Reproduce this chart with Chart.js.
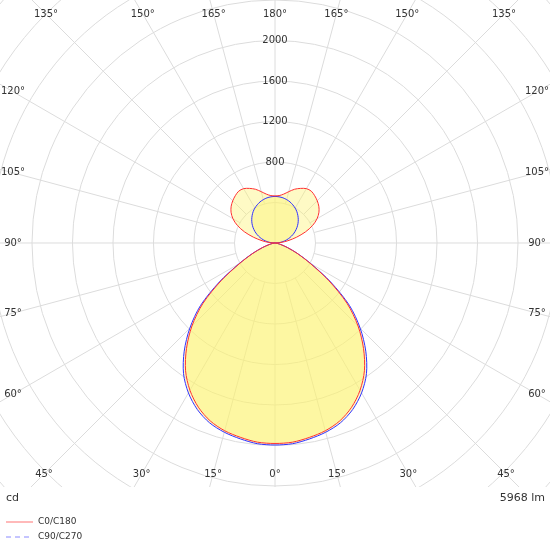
<!DOCTYPE html>
<html><head><meta charset="utf-8">
<script src="https://cdn.jsdelivr.net/npm/chart.js@4/dist/chart.umd.min.js"></script>
<style>html,body{margin:0;padding:0;background:#fff}#w{width:550px;height:550px}</style>
</head><body><div id="w"><canvas id="c" width="550" height="550"></canvas></div>
<script>
const angles = [0,5,10,15,20,25,30,35,40,45,50,55,60,65,70,75,80,85,90,95,100,105,110,115,120,125,130,135,140,145,150,155,160,165,170,175,180];
const c0c180 = [1980,1975,1950,1920,1870,1790,1680,1540,1360,1160,930,650,400,240,130,60,25,8,0,60,130,220,320,410,480,530,565,590,610,625,620,595,565,525,490,470,465];
const c90c270 = [1995,1990,1965,1935,1890,1815,1710,1575,1395,1190,960,670,410,245,130,60,25,8,0,40,80,118,157,194,230,264,296,325,352,377,398,416,432,444,453,458,460];
const radialTicks = [800,1200,1600,2000];
const seriesNames = ['C0/C180','C90/C270'];
const unitLeft = 'cd', unitRight = '5968 lm';

function toXY(vals){
  const pts=[];
  for(let i=angles.length-1;i>=0;i--){const t=-angles[i]*Math.PI/180;pts.push({x:vals[i]*Math.sin(t),y:-vals[i]*Math.cos(t)});}
  for(let i=1;i<angles.length;i++){const t=angles[i]*Math.PI/180;pts.push({x:vals[i]*Math.sin(t),y:-vals[i]*Math.cos(t)});}
  return pts;
}
const polarGrid={id:'pg',
 beforeDatasetsDraw(ch){
  const {ctx,chartArea:a,scales:{x,y}}=ch;
  const cx=x.getPixelForValue(0),cy=y.getPixelForValue(0);
  const k=x.getPixelForValue(400)-cx;
  ctx.save();ctx.beginPath();ctx.rect(a.left,a.top,a.right-a.left,a.bottom-a.top);ctx.clip();
  ctx.strokeStyle='#dcdcdc';ctx.lineWidth=1;
  for(let r=400;r<=4000;r+=400){ctx.beginPath();ctx.arc(cx,cy,(x.getPixelForValue(r)-cx),0,2*Math.PI);ctx.stroke();}
  for(let d=0;d<360;d+=15){const t=d*Math.PI/180;ctx.beginPath();ctx.moveTo(cx+Math.sin(t)*k,cy+Math.cos(t)*k);ctx.lineTo(cx+Math.sin(t)*1000,cy+Math.cos(t)*1000);ctx.stroke();}
  ctx.beginPath();ctx.moveTo(cx,cy-k);ctx.lineTo(cx,cy+k);ctx.stroke();
  // fills
  ch.data.datasets.forEach((ds,i)=>{const m=ch.getDatasetMeta(i);ctx.beginPath();m.data.forEach((p,j)=>j?ctx.lineTo(p.x,p.y):ctx.moveTo(p.x,p.y));ctx.closePath();ctx.fillStyle='rgba(252,242,110,0.4)';ctx.fill();});
  ctx.restore();
 },
 afterDatasetsDraw(ch){
  const {ctx,chartArea:a,scales:{x,y}}=ch;
  const cx=x.getPixelForValue(0),cy=y.getPixelForValue(0);
  ctx.save();ctx.font='10px "DejaVu Sans"';ctx.fillStyle='#333';ctx.textAlign='center';ctx.textBaseline='middle';
  radialTicks.forEach(v=>{ctx.fillText(String(v),cx,y.getPixelForValue(v));});
  const L=13,R=537,T=14,B=474;
  for(let d=0;d<=180;d+=15){
   for(const s of [1,-1]){
    if((d==0||d==180)&&s<0)continue;
    const t=d*Math.PI/180,dx=s*Math.sin(t),dy=Math.cos(t);
    let tt=1e9;
    if(dy>1e-6)tt=Math.min(tt,(B-cy)/dy); if(dy<-1e-6)tt=Math.min(tt,(T-cy)/dy);
    if(dx>1e-6)tt=Math.min(tt,(R-cx)/dx); if(dx<-1e-6)tt=Math.min(tt,(L-cx)/dx);
    ctx.fillText(d+'°',cx+dx*tt,cy+dy*tt);
   }
  }
  ctx.textAlign='left';ctx.font='11px "DejaVu Sans"';ctx.fillText(unitLeft,6,498);
  ctx.textAlign='right';ctx.fillText(unitRight,545,498);
  ctx.textAlign='left';ctx.font='9px "DejaVu Sans"';
  ctx.lineWidth=1;ctx.strokeStyle='rgba(255,80,80,0.8)';ctx.beginPath();ctx.moveTo(6,522);ctx.lineTo(33,522);ctx.stroke();
  ctx.fillText(seriesNames[0],38,522);
  ctx.strokeStyle='rgba(90,90,255,0.7)';ctx.setLineDash([5,4]);ctx.beginPath();ctx.moveTo(6,537);ctx.lineTo(33,537);ctx.stroke();ctx.setLineDash([]);
  ctx.fillText(seriesNames[1],38,537);
  ctx.restore();
 }};
new Chart(document.getElementById('c'),{type:'scatter',
 data:{datasets:[
  {label:seriesNames[0],data:toXY(c0c180),showLine:true,borderColor:'#ff3030',borderWidth:1,pointRadius:0,tension:0.3,fill:false},
  {label:seriesNames[1],data:toXY(c90c270),showLine:true,borderColor:'#3030ff',borderWidth:1,pointRadius:0,tension:0.3,fill:false}]},
 options:{responsive:false,animation:false,layout:{padding:{left:0,right:0,top:0,bottom:63}},
  plugins:{legend:{display:false},tooltip:{enabled:false}},
  scales:{x:{display:false,min:-2716,max:2716},y:{display:false,min:-2410,max:2400}}},
 plugins:[polarGrid]});
</script></body></html>
